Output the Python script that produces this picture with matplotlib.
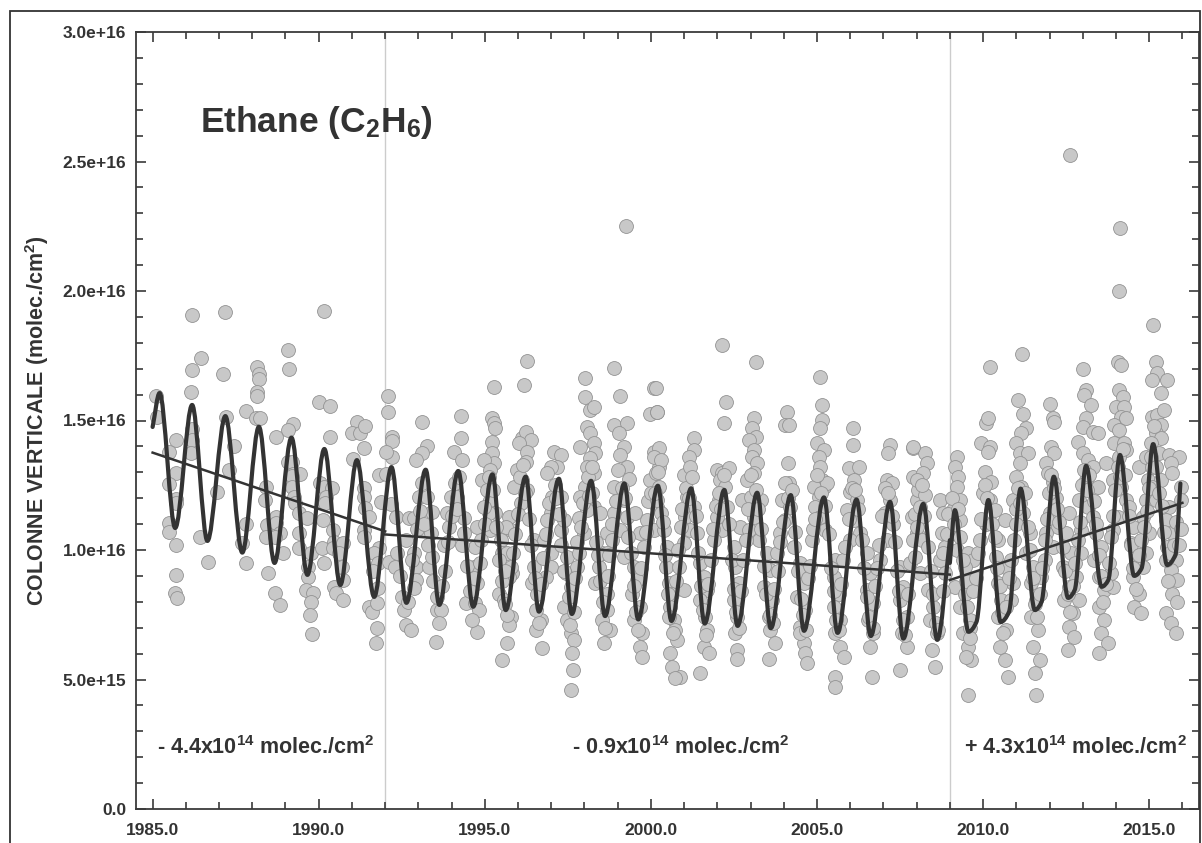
import numpy as np
import matplotlib
matplotlib.use("Agg")
import matplotlib.pyplot as plt
from matplotlib.path import Path
from matplotlib.patches import PathPatch, Rectangle
from matplotlib.ticker import MultipleLocator, FixedLocator, FixedFormatter

plt.rcParams['font.family'] = ['Liberation Sans', 'DejaVu Sans']
plt.rcParams['font.weight'] = 'bold'
plt.rcParams['mathtext.fontset'] = 'custom'
plt.rcParams['mathtext.rm'] = 'Liberation Sans:bold'
plt.rcParams['mathtext.it'] = 'Liberation Sans:bold'
plt.rcParams['mathtext.bf'] = 'Liberation Sans:bold'
plt.rcParams['mathtext.sf'] = 'Liberation Sans:bold'

INK = '#333333'

# --- observations (decimal year, column in 1e15 molec./cm2) ---
obs_1985_1992 = [
    (1986.18, 19.07), (1987.18, 19.2), (1990.15, 19.24), (1986.46, 17.4), (1986.18, 16.95), (1987.13, 16.8),
    (1989.07, 17.72), (1989.1, 17.0), (1988.15, 17.08), (1988.2, 16.8), (1988.2, 16.6), (1988.15, 16.1),
    (1988.15, 15.96), (1986.17, 16.1), (1985.11, 15.96), (1987.82, 15.37), (1990.02, 15.7), (1990.35, 15.57),
    (1992.1, 15.96), (1992.1, 15.32), (1985.13, 15.12), (1987.2, 15.15), (1988.1, 15.1), (1988.23, 15.1),
    (1989.22, 14.86), (1989.07, 14.63), (1988.7, 14.36), (1990.34, 14.36), (1986.2, 14.67), (1986.2, 14.25),
    (1985.71, 14.25), (1987.46, 14.0), (1985.49, 13.8), (1986.17, 13.73), (1991.15, 14.95), (1991.0, 14.5),
    (1991.25, 14.5), (1991.39, 14.79), (1991.35, 13.95), (1991.02, 13.5), (1992.2, 14.37), (1992.2, 14.2),
    (1992.2, 13.6), (1992.02, 13.8), (1989.07, 13.4), (1989.2, 13.4), (1989.22, 12.93), (1989.45, 12.93),
    (1985.7, 12.98), (1987.31, 13.1), (1985.48, 12.55), (1986.94, 12.23), (1985.7, 11.98), (1985.7, 11.8),
    (1988.42, 12.45), (1988.37, 11.92), (1989.2, 12.85), (1989.2, 12.45), (1989.25, 12.06), (1989.3, 11.8),
    (1989.42, 11.42), (1990.05, 12.59), (1990.15, 12.45), (1990.4, 12.38), (1990.22, 12.06), (1990.18, 11.8),
    (1989.65, 11.22), (1990.12, 11.16), (1991.37, 12.38), (1991.37, 12.06), (1991.4, 11.61), (1991.82, 12.9),
    (1992.02, 12.95), (1991.87, 11.86), (1992.17, 11.78), (1992.32, 11.29), (1985.48, 11.05), (1985.48, 10.7),
    (1985.71, 10.19), (1985.7, 9.03), (1985.66, 8.33), (1985.73, 8.13), (1986.44, 10.49), (1986.66, 9.53),
    (1987.82, 11.0), (1987.7, 10.26), (1987.82, 9.49), (1988.44, 10.97), (1988.4, 10.5), (1988.72, 11.29),
    (1988.72, 11.03), (1988.82, 10.64), (1988.67, 10.52), (1988.94, 9.87), (1988.47, 9.1), (1988.67, 8.33),
    (1988.82, 7.88), (1989.4, 10.64), (1989.42, 10.07), (1989.67, 9.36), (1989.77, 9.87), (1989.67, 8.97),
    (1989.62, 8.46), (1989.82, 8.33), (1989.77, 8.0), (1989.74, 7.49), (1989.79, 6.74), (1990.1, 10.07),
    (1990.15, 9.49), (1990.42, 10.77), (1990.47, 10.32), (1990.42, 10.07), (1990.72, 10.26), (1990.62, 9.87),
    (1990.7, 9.36), (1990.74, 8.84), (1990.47, 8.58), (1990.52, 8.33), (1990.72, 8.07), (1991.35, 10.77),
    (1991.37, 10.52), (1991.52, 11.29), (1991.82, 10.07), (1991.67, 9.87), (1991.77, 9.49), (1991.62, 9.17),
    (1991.77, 8.52), (1991.52, 7.81), (1991.59, 7.62), (1991.74, 7.94), (1991.74, 6.98), (1991.72, 6.4),
    (1992.13, 9.55),
]

obs_1992_2000 = [
    (1993.12, 14.95), (1993.25, 14.0), (1993.12, 13.73), (1992.92, 13.47), (1993.02, 12.06), (1993.27, 12.06),
    (1992.72, 11.22), (1992.87, 11.22), (1993.22, 10.77), (1993.42, 11.48), (1993.37, 10.64), (1992.62, 10.38),
    (1992.87, 9.87), (1992.92, 9.35), (1992.92, 8.84), (1992.87, 8.52), (1992.57, 7.68), (1992.62, 7.1),
    (1992.77, 6.91), (1992.3, 9.35), (1992.37, 9.87), (1993.52, 6.46),
    (1994.29, 15.18), (1994.27, 14.34), (1994.07, 13.8), (1994.32, 13.47), (1993.97, 12.06), (1994.17, 12.06),
    (1993.87, 11.41), (1993.92, 10.9), (1993.77, 10.19), (1994.37, 11.22), (1994.37, 10.64), (1993.57, 7.68),
    (1993.67, 7.68), (1993.32, 9.35), (1993.42, 9.74), (1994.42, 7.94),
    (1995.28, 16.28), (1995.22, 15.08), (1995.27, 14.89), (1995.32, 14.7), (1995.22, 14.18), (1995.22, 13.73),
    (1995.27, 13.34), (1994.97, 13.47), (1995.17, 13.09), (1994.92, 12.7), (1995.17, 11.93), (1995.32, 11.41),
    (1995.12, 11.41), (1994.97, 11.67), (1994.77, 10.9), (1995.17, 10.77), (1994.72, 10.13), (1994.67, 9.35),
    (1994.77, 8.71), (1994.72, 7.94), (1994.82, 7.68), (1994.77, 6.84), (1995.48, 10.38), (1995.58, 9.87),
    (1995.83, 9.1),
    (1996.26, 17.31), (1996.18, 16.37), (1996.13, 14.31), (1996.23, 14.57), (1996.38, 14.25), (1996.03, 14.12),
    (1996.26, 13.79), (1996.23, 13.41), (1995.98, 13.09), (1996.13, 12.7), (1996.28, 12.32), (1995.88, 12.45),
    (1996.08, 11.8), (1995.73, 11.28), (1995.78, 10.77), (1995.63, 10.9), (1995.53, 9.87), (1995.68, 9.87),
    (1995.78, 9.35), (1995.73, 8.97), (1995.43, 8.32), (1995.58, 8.07), (1995.78, 7.42), (1995.73, 7.1),
    (1995.68, 6.4), (1995.53, 5.75), (1996.48, 10.38), (1996.48, 9.35), (1996.43, 8.71), (1996.58, 8.32),
    (1996.53, 6.91), (1996.73, 6.2),
    (1997.08, 13.79), (1997.28, 13.67), (1997.18, 13.22), (1996.98, 13.22), (1996.88, 12.96), (1997.03, 12.06),
    (1997.28, 12.06), (1996.98, 11.41), (1996.88, 11.15), (1997.28, 10.77), (1997.38, 11.15), (1996.78, 10.38),
    (1996.98, 9.87), (1996.98, 9.35), (1996.83, 8.97), (1997.48, 9.74), (1997.43, 9.1), (1997.58, 8.58),
    (1997.38, 7.81), (1997.48, 7.3), (1997.58, 6.78), (1997.68, 6.53), (1997.63, 6.01), (1997.65, 5.36),
    (1997.58, 4.59), (1996.68, 7.3),
    (1998.01, 16.63), (1998.01, 15.92), (1998.18, 15.4), (1998.28, 15.53), (1998.08, 14.76), (1998.18, 14.5),
    (1997.88, 13.99), (1998.28, 14.12), (1998.33, 13.73), (1998.18, 13.54), (1998.08, 13.22), (1998.28, 12.96),
    (1998.03, 12.45), (1997.88, 12.06), (1998.23, 12.19), (1998.28, 11.67), (1998.08, 11.54), (1997.83, 11.22),
    (1997.98, 10.64), (1998.48, 11.41), (1998.68, 10.64), (1998.53, 9.87), (1998.43, 9.35), (1998.33, 8.71),
    (1998.68, 8.32), (1998.68, 7.68), (1998.53, 7.3), (1998.78, 6.91), (1998.58, 6.4), (1997.83, 9.87),
    (1997.78, 9.35),
    (1998.88, 17.01), (1999.08, 15.94), (1998.88, 14.82), (1999.28, 14.89), (1999.03, 14.5), (1999.18, 13.99),
    (1999.08, 13.67), (1999.28, 13.22), (1999.33, 12.76), (1998.88, 12.45), (1999.18, 11.93), (1998.88, 11.41),
    (1999.28, 11.28), (1999.08, 10.77), (1998.83, 10.38), (1998.68, 9.87), (1999.18, 9.74), (1999.48, 9.35),
    (1999.58, 8.84), (1999.43, 8.32), (1999.68, 7.81), (1999.48, 7.3), (1999.73, 6.78), (1999.68, 6.27),
    (1999.73, 5.88), (1999.53, 11.41), (1999.68, 10.64), (1999.25, 22.5),
    (2000.08, 16.24), (1999.98, 15.27), (2000.18, 15.34), (2000.08, 13.79), (2000.23, 13.22), (1999.98, 12.7),
    (2000.18, 11.67), (1999.88, 11.15), (2000.08, 10.77),
    # dense core of the cloud
    (1992.45, 9.0), (1992.5, 8.2), (1992.7, 8.0), (1992.8, 9.6), (1992.95, 10.8), (1993.05, 11.5),
    (1993.1, 12.6), (1993.18, 11.0), (1993.3, 10.2), (1993.45, 8.8), (1993.55, 8.2), (1993.62, 7.2),
    (1993.72, 8.6), (1993.8, 9.2), (1993.9, 10.3), (1994.0, 11.3),
    (1994.1, 12.6), (1994.15, 11.6), (1994.22, 12.8), (1994.3, 10.2), (1994.45, 9.4), (1994.55, 8.4),
    (1994.62, 7.3), (1994.68, 8.9), (1994.85, 9.5), (1994.9, 10.4), (1995.02, 11.0), (1995.08, 12.3),
    (1995.12, 12.8), (1995.25, 12.3), (1995.35, 10.9), (1995.42, 9.6), (1995.52, 8.8), (1995.6, 7.9),
    (1995.66, 7.5), (1995.62, 9.2), (1995.85, 9.9), (1995.92, 10.6), (1996.0, 11.4), (1996.05, 12.8),
    (1996.15, 13.3), (1996.2, 12.2), (1996.32, 11.2), (1996.38, 10.2), (1996.5, 8.9), (1996.55, 7.7),
    (1996.62, 7.2), (1996.7, 8.7), (1996.75, 9.7), (1996.85, 10.6), (1996.92, 11.8), (1997.1, 12.5),
    (1997.15, 12.0), (1997.22, 11.4), (1997.3, 10.2), (1997.38, 9.2), (1997.52, 8.2), (1997.55, 7.1),
    (1997.68, 7.6), (1997.72, 8.9), (1997.78, 10.3), (1997.9, 10.9), (1997.95, 11.8), (1998.12, 12.8),
    (1998.15, 12.1), (1998.22, 13.2), (1998.35, 10.3), (1998.4, 9.8), (1998.48, 8.8), (1998.55, 8.0),
    (1998.62, 7.0), (1998.72, 9.0), (1998.75, 9.8), (1998.82, 11.0), (1998.95, 11.9), (1999.0, 13.1),
    (1999.12, 12.4), (1999.22, 12.0), (1999.3, 10.5), (1999.4, 9.9), (1999.5, 8.6), (1999.55, 7.6),
    (1999.62, 6.9), (1999.7, 9.3), (1999.78, 10.1), (1999.85, 10.7), (1999.92, 11.9), (2000.0, 12.2),
]

obs_2000_2008 = [
    (2000.14, 16.24), (2000.19, 15.34), (2000.24, 13.92), (2000.09, 13.6), (2000.29, 13.47), (2000.14, 12.96),
    (2000.24, 12.45), (2000.19, 11.93), (2000.29, 11.41), (2000.39, 10.77), (2000.49, 10.13), (2000.44, 9.35),
    (2000.54, 8.71), (2000.64, 8.32), (2000.59, 7.81), (2000.69, 7.3), (2000.74, 6.91), (2000.79, 6.53),
    (2000.59, 6.01), (2000.64, 5.49), (2000.89, 5.11), (2000.74, 5.04), (2000.99, 10.26), (2000.84, 9.35),
    (2000.99, 8.45),
    (2001.31, 14.31), (2001.29, 13.86), (2001.14, 13.6), (2000.99, 12.89), (2001.19, 13.22), (2001.09, 12.06),
    (2001.29, 11.67), (2001.04, 11.28), (2001.19, 10.77), (2001.39, 10.64), (2001.49, 9.48), (2001.59, 8.97),
    (2001.69, 8.45), (2001.49, 8.07), (2001.64, 7.42), (2001.69, 6.91), (2001.59, 6.27), (2001.74, 6.01),
    (2001.49, 5.24), (2002.14, 17.91), (2002.26, 15.7), (2002.19, 14.91),
    (2001.99, 13.09), (2002.14, 12.96), (2002.34, 13.15), (2002.09, 12.7), (2002.24, 12.45), (2002.04, 11.93),
    (2002.29, 11.67), (2001.99, 11.28), (2002.14, 10.77), (2001.89, 10.38), (2002.49, 10.13), (2002.54, 9.35),
    (2002.64, 8.71), (2002.49, 8.07), (2002.59, 7.42), (2002.54, 6.78), (2002.59, 6.14), (2002.59, 5.81),
    (2002.74, 11.93), (2002.69, 10.9), (2003.15, 17.27), (2003.1, 15.08), (2003.05, 14.7), (2003.15, 14.37),
    (2002.95, 14.25), (2003.1, 13.86), (2003.05, 13.6), (2003.2, 13.34), (2003.1, 12.96), (2002.9, 12.7),
    (2003.0, 12.06), (2003.3, 11.93), (2003.1, 11.28), (2002.95, 10.77), (2003.25, 10.38), (2003.5, 9.87),
    (2003.6, 9.22), (2003.4, 8.58), (2003.65, 8.07), (2003.55, 7.42), (2003.6, 6.91), (2003.75, 6.4),
    (2003.55, 5.81), (2004.1, 15.34), (2004.05, 14.82), (2004.15, 14.82), (2004.13, 13.34), (2004.15, 12.57),
    (2003.95, 11.93), (2004.2, 11.67), (2004.05, 11.15), (2003.9, 10.64), (2003.8, 9.87), (2004.3, 10.13),
    (2004.5, 9.48), (2004.6, 8.71), (2004.4, 8.2), (2004.65, 7.68), (2004.5, 7.04), (2004.6, 6.4),
    (2004.65, 6.01), (2004.5, 6.78), (2004.7, 5.62), (2005.1, 16.69), (2005.15, 15.6), (2005.15, 15.02),
    (2005.1, 14.7), (2005.0, 14.12), (2005.2, 13.86), (2005.05, 13.6), (2005.1, 13.22), (2005.15, 12.7),
    (2005.2, 12.45), (2004.9, 12.45), (2005.3, 12.57), (2005.05, 12.06), (2004.95, 11.67), (2005.1, 11.28),
    (2005.25, 10.77), (2004.85, 10.38),
    (2005.55, 9.61), (2005.5, 8.97), (2005.65, 8.32), (2005.5, 7.81), (2005.7, 7.3), (2005.55, 6.78),
    (2005.7, 6.27), (2005.8, 5.88), (2005.55, 5.11), (2005.55, 4.72), (2006.08, 14.7), (2006.08, 14.05),
    (2005.95, 13.15), (2006.25, 13.22), (2006.1, 12.7), (2006.0, 12.25), (2006.2, 11.93), (2005.9, 11.54),
    (2006.1, 11.15), (2006.3, 10.64), (2006.0, 10.38),
    (2006.5, 9.87), (2006.6, 9.1), (2006.5, 8.45), (2006.7, 7.94), (2006.55, 7.3), (2006.7, 6.78),
    (2006.6, 6.27), (2006.65, 5.11), (2007.2, 14.05), (2007.15, 13.73), (2007.1, 12.7), (2007.25, 12.57),
    (2007.2, 11.93), (2007.05, 11.41), (2007.3, 11.02), (2007.1, 10.38), (2006.9, 9.61),
    (2007.5, 9.35), (2007.6, 8.58), (2007.5, 8.07), (2007.7, 7.42), (2007.55, 6.78), (2007.7, 6.27),
    (2007.5, 5.36), (2007.9, 13.92), (2007.9, 12.83), (2008.0, 11.93), (2007.85, 11.28), (2008.0, 10.64),
    # dense core of the cloud
    (2000.12, 12.2), (2000.2, 13.0), (2000.35, 11.1), (2000.42, 9.8), (2000.5, 8.3), (2000.55, 7.4),
    (2000.68, 6.8), (2000.75, 8.8), (2000.82, 10.0), (2000.9, 10.9), (2000.95, 11.6), (2001.05, 12.4),
    (2001.15, 12.0), (2001.25, 12.8), (2001.35, 11.3), (2001.42, 9.9), (2001.52, 8.6), (2001.58, 7.7),
    (2001.65, 6.7), (2001.72, 8.7), (2001.8, 9.6), (2001.88, 10.8), (2001.95, 11.7), (2002.05, 12.2),
    (2002.1, 11.6), (2002.2, 12.9), (2002.35, 11.0), (2002.45, 9.6), (2002.5, 8.5), (2002.56, 7.6),
    (2002.65, 7.0), (2002.72, 8.4), (2002.78, 9.6), (2002.85, 10.4), (2002.92, 11.6), (2003.02, 12.9),
    (2003.15, 12.3), (2003.22, 11.6), (2003.32, 10.8), (2003.42, 9.4), (2003.48, 8.3), (2003.58, 7.5),
    (2003.68, 7.2), (2003.72, 8.5), (2003.82, 9.2), (2003.88, 10.3), (2003.98, 11.1), (2004.05, 12.6),
    (2004.12, 12.0), (2004.25, 12.3), (2004.35, 10.7), (2004.42, 9.2), (2004.52, 8.1), (2004.58, 7.5),
    (2004.68, 6.9), (2004.72, 8.9), (2004.8, 9.4), (2004.88, 10.8), (2004.95, 11.2), (2005.0, 12.9),
    (2005.12, 12.2), (2005.25, 11.7), (2005.35, 10.6), (2005.42, 9.3), (2005.5, 8.4), (2005.58, 7.3),
    (2005.65, 6.9), (2005.72, 8.7), (2005.78, 9.6), (2005.85, 10.1), (2005.95, 11.2), (2006.05, 12.4),
    (2006.15, 12.3), (2006.22, 11.6), (2006.35, 10.4), (2006.42, 9.3), (2006.5, 8.2), (2006.58, 7.4),
    (2006.68, 7.0), (2006.75, 8.6), (2006.8, 9.3), (2006.88, 10.2), (2006.95, 11.3), (2007.05, 12.4),
    (2007.15, 12.2), (2007.25, 11.3), (2007.35, 10.3), (2007.42, 9.2), (2007.48, 8.4), (2007.58, 7.3),
    (2007.65, 6.7), (2007.75, 8.3), (2007.8, 9.5), (2007.88, 10.4), (2007.95, 11.4), (2008.05, 12.3),
]

obs_2008_2016 = [
    (2008.25, 13.73), (2008.3, 13.34), (2008.2, 12.96), (2008.0, 12.7), (2008.25, 12.12), (2008.1, 11.67),
    (2007.9, 13.99), (2008.0, 10.9), (2008.15, 10.38), (2007.95, 9.74), (2008.1, 9.1), (2008.35, 8.45),
    (2008.5, 7.81), (2008.4, 7.3), (2008.6, 6.78), (2008.45, 6.14), (2008.55, 5.49), (2008.7, 11.93),
    (2008.8, 11.41), (2008.75, 10.64), (2008.85, 10.13), (2008.7, 9.61), (2008.85, 9.1),
    (2009.2, 13.6), (2009.15, 13.22), (2009.25, 12.83), (2009.2, 12.45), (2009.3, 11.93), (2009.1, 11.54),
    (2009.3, 11.15), (2009.05, 10.64), (2009.2, 10.0), (2009.15, 8.58), (2009.45, 8.32), (2009.3, 7.81),
    (2009.6, 7.3), (2009.4, 6.78), (2009.55, 6.27), (2009.65, 5.75), (2009.5, 5.88), (2009.55, 4.4),
    (2009.55, 9.87), (2009.7, 9.61), (2009.85, 9.87), (2009.45, 9.35),
    (2010.2, 17.08), (2010.1, 14.89), (2010.15, 15.08), (2009.95, 14.12), (2010.2, 13.99), (2010.15, 13.79),
    (2010.05, 13.0), (2010.25, 12.63), (2010.0, 12.19), (2010.2, 11.93), (2010.35, 11.54), (2010.1, 11.02),
    (2010.65, 11.15), (2010.45, 10.38), (2010.4, 9.74), (2010.65, 9.35), (2010.45, 8.71), (2010.55, 8.07),
    (2010.45, 7.42), (2010.7, 6.91), (2010.5, 6.27), (2010.65, 5.75), (2010.75, 5.11), (2010.85, 8.07),
    (2010.9, 8.71),
    (2011.16, 17.56), (2011.04, 15.79), (2011.2, 15.27), (2011.3, 14.7), (2011.15, 14.5), (2011.0, 14.12),
    (2011.1, 13.73), (2011.35, 13.73), (2011.1, 13.34), (2011.0, 12.83), (2011.15, 12.45), (2010.9, 11.93),
    (2011.2, 11.41), (2011.0, 11.02), (2011.4, 10.64), (2011.3, 9.87), (2011.5, 9.35), (2011.45, 8.71),
    (2011.6, 8.07), (2011.45, 7.42), (2011.65, 6.91), (2011.5, 6.27), (2011.7, 5.75), (2011.55, 5.24),
    (2011.59, 4.4), (2011.75, 8.97), (2011.85, 9.61),
    (2012.0, 15.62), (2012.1, 15.08), (2012.15, 14.95), (2012.05, 13.99), (2012.15, 13.73), (2011.9, 13.34),
    (2011.95, 12.96), (2012.1, 12.63), (2012.2, 12.0), (2012.0, 11.41), (2012.25, 10.9), (2011.9, 10.64),
    (2012.1, 10.13), (2012.6, 11.41), (2012.5, 10.64), (2012.65, 9.87), (2012.4, 9.35), (2012.6, 8.58),
    (2012.45, 8.07), (2012.7, 7.55), (2012.6, 7.04), (2012.75, 6.65), (2012.55, 6.14), (2012.9, 8.07),
    (2012.8, 8.97), (2012.95, 9.87), (2012.62, 25.25),
    (2013.01, 16.97), (2013.1, 16.18), (2013.05, 15.98), (2013.25, 15.6), (2013.1, 15.08), (2013.0, 14.76),
    (2013.3, 14.57), (2012.85, 14.18), (2013.45, 14.5), (2013.0, 13.73), (2013.15, 13.47), (2013.3, 13.22),
    (2013.1, 12.7), (2013.45, 12.45), (2012.9, 11.93), (2013.15, 11.67), (2013.3, 11.28), (2012.95, 10.77),
    (2013.4, 10.64), (2013.55, 10.13), (2013.35, 9.61), (2013.5, 8.97), (2013.65, 8.45), (2013.5, 7.81),
    (2013.65, 7.3), (2013.55, 6.78), (2013.75, 6.4), (2013.5, 6.01), (2013.7, 13.34), (2013.9, 8.58),
    (2013.85, 9.1),
    (2014.06, 17.27), (2014.16, 17.14), (2014.1, 16.18), (2014.2, 15.92), (2014.0, 15.53), (2014.25, 15.53),
    (2014.15, 15.15), (2013.95, 14.82), (2014.3, 15.08), (2014.1, 14.63), (2013.95, 14.12), (2014.25, 14.12),
    (2014.3, 13.86), (2014.1, 13.6), (2013.9, 12.7), (2014.15, 12.45), (2014.3, 11.93), (2014.05, 11.28),
    (2013.9, 10.77), (2014.4, 11.67), (2014.5, 10.9), (2014.45, 10.26), (2014.6, 9.61), (2014.5, 8.97),
    (2014.7, 8.32), (2014.55, 7.81), (2014.75, 7.55), (2014.7, 13.22), (2014.9, 13.6), (2014.95, 12.7),
    (2014.9, 11.93), (2014.8, 11.28), (2015.0, 10.64), (2014.9, 9.87), (2014.8, 9.35),
    (2014.1, 20.0), (2014.13, 22.43),
    (2015.11, 18.68), (2015.2, 17.27), (2015.25, 16.82), (2015.1, 16.56), (2015.55, 16.56), (2015.35, 16.05),
    (2015.1, 15.15), (2015.25, 15.21), (2015.45, 15.4), (2015.35, 14.82), (2015.2, 14.5), (2015.35, 14.31),
    (2015.05, 14.12), (2015.3, 13.73), (2015.6, 13.67), (2015.9, 13.6), (2015.1, 13.22), (2015.65, 13.34),
    (2015.35, 12.7), (2015.7, 12.96), (2015.1, 12.45), (2015.2, 11.93), (2015.6, 11.67), (2015.5, 11.15),
    (2015.7, 10.64), (2015.55, 10.13), (2015.8, 9.61), (2015.65, 9.22), (2015.85, 8.84), (2015.7, 8.32),
    (2015.85, 8.0), (2015.5, 7.55), (2015.65, 7.17), (2015.8, 6.78), (2015.95, 12.45), (2015.95, 11.93),
    # dense core of the cloud
    (2008.15, 12.5), (2008.22, 11.3), (2008.35, 10.1), (2008.42, 9.2), (2008.5, 8.3), (2008.58, 7.2),
    (2008.65, 6.9), (2008.78, 8.4), (2008.8, 9.9), (2008.9, 10.6), (2008.95, 11.4),
    (2009.05, 12.0), (2009.12, 11.0), (2009.25, 11.6), (2009.32, 10.5), (2009.4, 9.6), (2009.48, 8.8),
    (2009.52, 7.8), (2009.6, 7.0), (2009.62, 6.6), (2009.7, 8.4), (2009.78, 8.9), (2009.9, 10.4),
    (2009.95, 11.2),
    (2010.05, 12.5), (2010.12, 12.0), (2010.28, 11.0), (2010.35, 10.5), (2010.42, 9.3), (2010.5, 8.6),
    (2010.58, 7.6), (2010.6, 6.8), (2010.7, 7.8), (2010.78, 8.9), (2010.85, 9.6), (2010.92, 10.4),
    (2010.98, 11.6),
    (2011.05, 12.4), (2011.12, 11.8), (2011.25, 12.2), (2011.35, 10.9), (2011.42, 10.0), (2011.5, 8.9),
    (2011.55, 7.9), (2011.62, 7.4), (2011.7, 8.3), (2011.78, 9.3), (2011.85, 10.4), (2011.92, 11.2),
    (2011.98, 12.2),
    (2012.05, 12.9), (2012.12, 12.4), (2012.22, 11.6), (2012.3, 11.1), (2012.4, 10.1), (2012.48, 9.2),
    (2012.55, 8.3), (2012.62, 7.6), (2012.72, 8.6), (2012.78, 9.5), (2012.85, 10.4), (2012.92, 11.1),
    (2012.98, 12.5),
    (2013.05, 13.1), (2013.12, 12.3), (2013.2, 12.9), (2013.35, 11.9), (2013.4, 11.0), (2013.48, 9.8),
    (2013.55, 9.0), (2013.6, 8.0), (2013.7, 8.7), (2013.78, 9.5), (2013.85, 10.5), (2013.92, 11.3),
    (2013.98, 12.3),
    (2014.05, 13.2), (2014.12, 12.8), (2014.2, 13.9), (2014.28, 12.9), (2014.38, 11.3), (2014.45, 10.2),
    (2014.52, 9.3), (2014.6, 8.5), (2014.68, 9.8), (2014.75, 10.4), (2014.85, 10.9), (2014.92, 11.5),
    (2014.98, 12.4),
    (2015.05, 13.6), (2015.15, 14.8), (2015.22, 13.2), (2015.3, 12.2), (2015.4, 11.7), (2015.45, 10.7),
    (2015.5, 9.6), (2015.58, 8.8), (2015.62, 9.9), (2015.75, 10.2), (2015.82, 11.1), (2015.9, 10.2),
    (2015.95, 10.8),
]

# --- fitted seasonal curve: turning points (year, 1e15) ---
fit_before_2009 = [
    (1985.0, 14.75), (1985.21, 16.06), (1985.68, 10.85), (1986.19, 15.6), (1986.65, 10.35), (1987.19, 15.17),
    (1987.7, 9.9), (1988.2, 14.76), (1988.67, 9.5), (1989.18, 14.34), (1989.66, 9.04), (1990.17, 13.9),
    (1990.65, 8.65), (1991.15, 13.47), (1991.67, 8.19), (1992.19, 13.2), (1992.64, 7.96), (1993.22, 13.1),
    (1993.63, 7.88), (1994.2, 13.05), (1994.65, 7.81), (1995.23, 12.92), (1995.63, 7.68), (1996.23, 12.83),
    (1996.63, 7.62), (1997.23, 12.75), (1997.62, 7.53), (1998.2, 12.67), (1998.62, 7.45), (1999.2, 12.57),
    (1999.62, 7.32), (2000.21, 12.48), (2000.62, 7.26), (2001.21, 12.38), (2001.62, 7.16), (2002.21, 12.32),
    (2002.61, 7.07), (2003.2, 12.21), (2003.61, 6.98), (2004.21, 12.12), (2004.61, 6.88), (2005.21, 12.03),
    (2005.62, 6.8), (2006.19, 11.95), (2006.62, 6.68), (2007.2, 11.86), (2007.6, 6.58), (2008.2, 11.78),
    (2008.62, 6.53), (2009.0, 10.38),
]
fit_after_2009 = [
    (2009.0, 9.5), (2009.15, 11.54), (2009.56, 6.84), (2009.8, 7.22), (2010.16, 11.93), (2010.53, 7.22),
    (2010.78, 7.61), (2011.13, 12.37), (2011.56, 7.68), (2011.76, 8.0), (2012.13, 12.83), (2012.56, 8.15),
    (2012.76, 8.46), (2013.1, 13.25), (2013.57, 8.58), (2013.77, 8.84), (2014.12, 13.67), (2014.55, 9.0),
    (2014.77, 9.29), (2015.12, 14.09), (2015.54, 9.42), (2015.79, 9.81), (2015.94, 12.57),
]

# --- piecewise trends ---
trend_1 = [(1985.0, 13.76), (1992.0, 10.72)]
trend_2 = [(1992.0, 10.6), (2009.0, 9.05)]
trend_3 = [(2009.0, 8.84), (2016.0, 11.82)]
breaks = [1992.0, 2009.0]

trend_labels = [r'- 4.4x10$^{14}$ molec./cm$^2$',
                r'- 0.9x10$^{14}$ molec./cm$^2$',
                r'+ 4.3x10$^{14}$ molec./cm$^2$']

y_ticks = [0, 5, 10, 15, 20, 25, 30]
y_tick_labels = ['0.0', '5.0e+15', '1.0e+16', '1.5e+16', '2.0e+16', '2.5e+16', '3.0e+16']
x_ticks = [1985, 1990, 1995, 2000, 2005, 2010, 2015]
x_tick_labels = ['1985.0', '1990.0', '1995.0', '2000.0', '2005.0', '2010.0', '2015.0']


def smooth_path(points):
    # monotone cubic through the turning points, drawn as bezier segments
    t = np.array([p[0] for p in points], float)
    v = np.array([p[1] for p in points], float)
    h = np.diff(t)
    d = np.diff(v) / h
    m = np.zeros_like(v)
    m[0], m[-1] = d[0], d[-1]
    for i in range(1, len(v) - 1):
        if d[i - 1] * d[i] > 0:
            m[i] = 2.0 / (1.0 / d[i - 1] + 1.0 / d[i])
    verts = [(t[0], v[0])]
    codes = [Path.MOVETO]
    for i in range(len(h)):
        verts += [(t[i] + h[i] / 3, v[i] + m[i] * h[i] / 3),
                  (t[i + 1] - h[i] / 3, v[i + 1] - m[i + 1] * h[i] / 3),
                  (t[i + 1], v[i + 1])]
        codes += [Path.CURVE4] * 3
    return Path(verts, codes)


fig = plt.figure(figsize=(12.02, 8.43), dpi=100)
ax = fig.add_axes([136 / 1202, 1 - 809 / 843, 1063 / 1202, 777 / 843])

for b in breaks:
    ax.axvline(b, color='#cccccc', lw=1.0, zorder=1)

obs = obs_1985_1992 + obs_1992_2000 + obs_2000_2008 + obs_2008_2016
ax.scatter([p[0] for p in obs], [p[1] for p in obs], s=100, facecolor='#c8c8c8',
           edgecolor='#939393', linewidth=0.6, zorder=2)

for seg in (fit_before_2009, fit_after_2009):
    ax.add_patch(PathPatch(smooth_path(seg), facecolor='none', edgecolor=INK,
                           lw=3.0, capstyle='round', joinstyle='round', zorder=4))

for seg in (trend_1, trend_2, trend_3):
    ax.plot([p[0] for p in seg], [p[1] for p in seg], color=INK, lw=1.8, zorder=3)

ax.set_xlim(1984.5, 2016.5)
ax.set_ylim(0, 30)
ax.xaxis.set_major_locator(FixedLocator(x_ticks))
ax.xaxis.set_major_formatter(FixedFormatter(x_tick_labels))
ax.xaxis.set_minor_locator(MultipleLocator(1))
ax.yaxis.set_major_locator(FixedLocator(y_ticks))
ax.yaxis.set_major_formatter(FixedFormatter(y_tick_labels))
ax.yaxis.set_minor_locator(MultipleLocator(1))
ax.tick_params(which='both', direction='in', top=True, right=True, color='#3a3a3a',
               width=1.2, labelcolor=INK, labelsize=12.5)
ax.tick_params(which='major', length=7.5)
ax.tick_params(which='minor', length=5)
ax.tick_params(axis='x', pad=10)
ax.tick_params(axis='y', pad=7)
for lab in ax.get_xticklabels() + ax.get_yticklabels():
    lab.set_fontweight('bold')
for sp in ax.spines.values():
    sp.set_color('#3a3a3a')
    sp.set_linewidth(1.3)

ax.set_ylabel('COLONNE VERTICALE (molec./cm$^2$)', fontsize=15.5, fontweight='bold', color=INK)
ax.yaxis.set_label_coords(-0.080, 0.5)

ax.text(0.060, 0.871, r'Ethane (C$_2$H$_6$)', transform=ax.transAxes, fontsize=25.5,
        fontweight='bold', color=INK, va='baseline', ha='left')

for x0, lab in zip([0.0198, 0.41, 0.779], trend_labels):
    ax.text(x0, 0.0708, lab, transform=ax.transAxes, fontsize=15.5, fontweight='bold',
            color=INK, va='baseline', ha='left')

fig.patches.append(Rectangle((10 / 1202, -0.02), 1190 / 1202, 1 - 11 / 843 + 0.02,
                             transform=fig.transFigure, fill=False, ec='#333333', lw=1.3))

fig.savefig('out.png', dpi=100)
